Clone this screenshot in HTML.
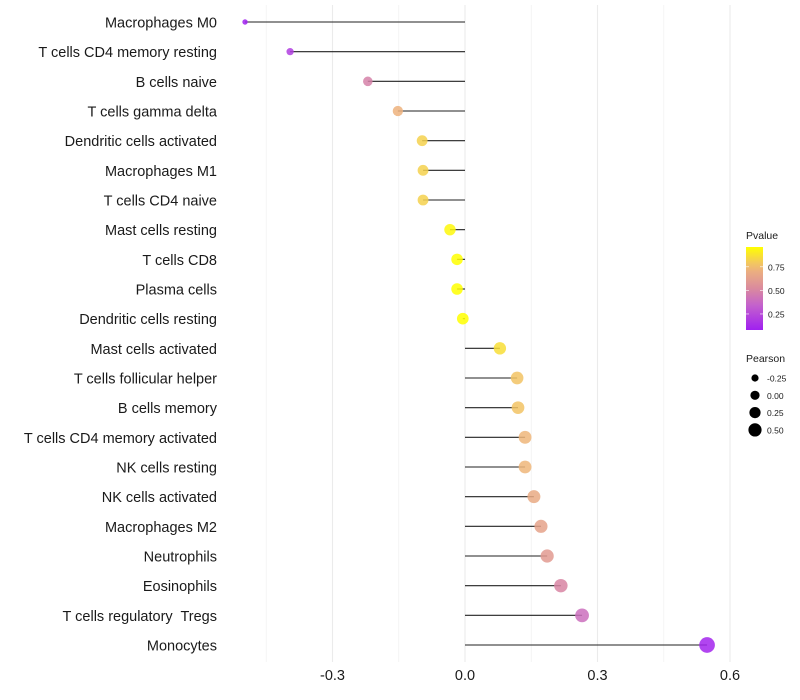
<!DOCTYPE html>
<html><head><meta charset="utf-8"><style>
html,body{margin:0;padding:0;background:#fff;}
svg{display:block;font-family:"Liberation Sans",sans-serif;}
text{white-space:pre;}
</style></head><body>
<svg id="chart" width="800" height="700" viewBox="0 0 800 700" xmlns="http://www.w3.org/2000/svg"></svg>
<script>
const categories = ["Macrophages M0","T cells CD4 memory resting","B cells naive","T cells gamma delta","Dendritic cells activated","Macrophages M1","T cells CD4 naive","Mast cells resting","T cells CD8","Plasma cells","Dendritic cells resting","Mast cells activated","T cells follicular helper","B cells memory","T cells CD4 memory activated","NK cells resting","NK cells activated","Macrophages M2","Neutrophils","Eosinophils","T cells regulatory  Tregs","Monocytes"];
const pearson = [-0.498,-0.396,-0.22,-0.152,-0.097,-0.095,-0.095,-0.034,-0.018,-0.018,-0.005,0.079,0.118,0.12,0.136,0.136,0.156,0.172,0.186,0.217,0.265,0.548];
const pvalue = [0.08,0.2,0.48,0.72,0.82,0.82,0.82,0.94,0.96,0.96,0.96,0.86,0.78,0.78,0.74,0.74,0.68,0.64,0.6,0.5,0.4,0.1];
const xTicks = [-0.3,0.0,0.3,0.6];
const xTickLabels = ["-0.3","0.0","0.3","0.6"];
const xMinor = [-0.45,-0.15,0.15,0.45];
const pTicks = [0.25,0.5,0.75];
const pTickLabels = ["0.25","0.50","0.75"];
const sizeTicks = [-0.25,0,0.25,0.5];
const sizeTickLabels = ["-0.25","0.00","0.25","0.50"];

const NS="http://www.w3.org/2000/svg";
const svg=document.getElementById('chart');
function mk(tag,attrs,parent){const e=document.createElementNS(NS,tag);for(const k in attrs)e.setAttribute(k,attrs[k]);(parent||svg).appendChild(e);return e;}
const x=v=>465+v*441.7;
const y=i=>22+i*29.667;
const r=v=>Math.sqrt(Math.max(1.5,25.5+44*v))+0.8;
const pMin=0.08,pMax=0.96;
const stops=[[0,[160,32,240]],[0.3,[196,98,204]],[0.5,[218,138,158]],[0.75,[239,182,122]],[1,[255,255,0]]];
function col(p){let t=(p-pMin)/(pMax-pMin);t=Math.max(0,Math.min(1,t));
 for(let i=1;i<stops.length;i++){if(t<=stops[i][0]){const a=stops[i-1],b=stops[i];const f=(t-a[0])/(b[0]-a[0]);
 const c=a[1].map((v,j)=>Math.round(v+(b[1][j]-v)*f));return `rgb(${c.join(',')})`;}}return 'rgb(255,255,0)';}

const grid=mk('g',{});


xMinor.forEach(v=>{const l=mk('line',{x1:x(v),x2:x(v),y1:5,y2:662,stroke:'#f2f2f2','stroke-width':0.8},grid);
 });
xTicks.forEach(v=>{const l=mk('line',{x1:x(v),x2:x(v),y1:5,y2:662,stroke:'#ebebeb','stroke-width':1.1},grid);
 });

xTicks.forEach((v,i)=>{const t=mk('text',{x:x(v),y:680,'text-anchor':'middle','font-size':14.5,fill:'#1a1a1a'});t.textContent=xTickLabels[i];
 });

categories.forEach((c,i)=>{
 const t=mk('text',{x:217,y:y(i)+5.5,'text-anchor':'end','font-size':14.5,fill:'#1a1a1a'});t.textContent=c;
 
 const l=mk('line',{x1:x(0),x2:x(pearson[i]),y1:y(i),y2:y(i),stroke:'#222','stroke-width':1.1});
 
 const p=mk('circle',{cx:x(pearson[i]),cy:y(i),r:r(pearson[i]),fill:col(pvalue[i]),'fill-opacity':0.85});
 
});

const lg=mk('g',{});


const lt=mk('text',{x:746,y:239,'font-size':10.5,fill:'#1a1a1a'},lg);lt.textContent='Pvalue';

const defs=mk('defs',{});
const grad=mk('linearGradient',{id:'pg',x1:0,y1:1,x2:0,y2:0},defs);
for(let k=0;k<=10;k++){const p=pMin+(pMax-pMin)*k/10;mk('stop',{offset:k/10,'stop-color':col(p)},grad);}
const barTop=247,barBot=330;
const py=p=>barBot-(p-pMin)/(pMax-pMin)*(barBot-barTop);
const bar=mk('rect',{x:746,y:barTop,width:17,height:barBot-barTop,fill:'url(#pg)'},lg);

pTicks.forEach((p,i)=>{
 mk('line',{x1:746,x2:749,y1:py(p),y2:py(p),stroke:'#fff','stroke-width':0.6},lg);
 mk('line',{x1:760,x2:763,y1:py(p),y2:py(p),stroke:'#fff','stroke-width':0.6},lg);
 const t=mk('text',{x:768,y:py(p)+3.5,'font-size':8.5,fill:'#1a1a1a'},lg);t.textContent=pTickLabels[i];
 
});

const sg=mk('g',{});


const st=mk('text',{x:746,y:362,'font-size':10.5,fill:'#1a1a1a'},sg);st.textContent='Pearson';

sizeTicks.forEach((v,i)=>{
 const cy=378+i*17.3;
 const c=mk('circle',{cx:755,cy:cy,r:3.6+i*1,fill:'#000'},sg);
 
 const t=mk('text',{x:767,y:cy+3.5,'font-size':8.5,fill:'#1a1a1a'},sg);t.textContent=sizeTickLabels[i];
 
});
</script>
</body></html>
